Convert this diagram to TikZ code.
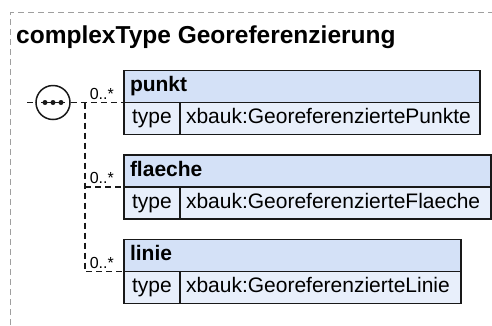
\documentclass[tikz,border=0pt]{standalone}
\usepackage{fontspec}
\setmainfont{Liberation Sans}
\usepackage{xcolor}
\usetikzlibrary{positioning}

\definecolor{headblue}{RGB}{212,225,247}
\definecolor{rowblue}{RGB}{232,239,251}
\definecolor{boxline}{RGB}{25,25,25}

\tikzset{
    frame/.style={draw=gray!75, line width=1pt, dash pattern=on 6pt off 4pt},
    conn/.style={draw=boxline, line width=1.5pt, dash pattern=on 6pt off 4pt},
    cell/.style={draw=boxline, line width=1.7pt, anchor=north west, outer sep=0pt,
        inner xsep=6pt, inner ysep=0pt, minimum height=32pt,
        text height=15pt, text depth=4.5pt, align=left},
    head/.style={cell, fill=headblue, font=\fontsize{21}{25}\selectfont\bfseries},
    typecell/.style={cell, fill=rowblue, minimum width=56pt, font=\fontsize{21}{25}\selectfont},
    valcell/.style={cell, fill=rowblue, font=\fontsize{21}{25}\selectfont},
    mult/.style={anchor=base east, inner sep=0pt, font=\fontsize{16}{18}\selectfont},
    compositor/.style={circle, draw=boxline, line width=1.5pt, fill=white, minimum size=34pt, inner sep=0pt}
}

\begin{document}
\begin{tikzpicture}[x=1pt, y=-1pt]
    \useasboundingbox (0,0) rectangle (492,325);

    % outer frame and title
    \draw[frame] (10.5,325) |- (492,12.5);
    \node[anchor=base west, inner sep=0pt, font=\fontsize{24.5}{29}\selectfont\bfseries] (title) at (16,43) {complexType Georeferenzierung};

    % element boxes
    \node[head, text width=344pt] (punkt) at (124,70.5) {punkt};
    \node[typecell] (punkttype) at (punkt.south west) {type};
    \node[valcell, text width=288pt] (punktval) at (punkttype.north east) {xbauk:GeoreferenziertePunkte};

    \node[head, text width=355pt] (flaeche) at (124,155) {flaeche};
    \node[typecell] (flaechetype) at (flaeche.south west) {type};
    \node[valcell, text width=299pt] (flaecheval) at (flaechetype.north east) {xbauk:GeoreferenzierteFlaeche};

    \node[head, text width=325pt] (linie) at (124,239.5) {linie};
    \node[typecell] (linietype) at (linie.south west) {type};
    \node[valcell, text width=269pt] (linieval) at (linietype.north east) {xbauk:GeoreferenzierteLinie};

    % sequence compositor
    \coordinate (in) at (27,102.5);
    \node[compositor] (seq) at (53,102.5) {};
    \draw[boxline, line width=1.5pt] ([xshift=-12pt]seq.center) -- ([xshift=12pt]seq.center);
    \foreach \dx in {-8,0,8}
        \fill[boxline] ([xshift=\dx pt]seq.center) circle (2.5pt);

    % connectors
    \coordinate (fork) at (85,102.5);
    \draw[conn] (in) -- (seq.west);
    \draw[conn] (seq.east) -- (punkt.south west);
    \draw[conn] (fork) -- (fork |- linie.south west) -- (linie.south west);
    \draw[conn] (fork |- flaeche.south west) -- (flaeche.south west);

    % multiplicities
    \node[mult] (punktmult) at ([xshift=-10pt,yshift=3.5pt]punkt.south west) {0..*};
    \node[mult] (flaechemult) at ([xshift=-10pt,yshift=3.5pt]flaeche.south west) {0..*};
    \node[mult] (liniemult) at ([xshift=-10pt,yshift=3.5pt]linie.south west) {0..*};
\end{tikzpicture}
\end{document}
